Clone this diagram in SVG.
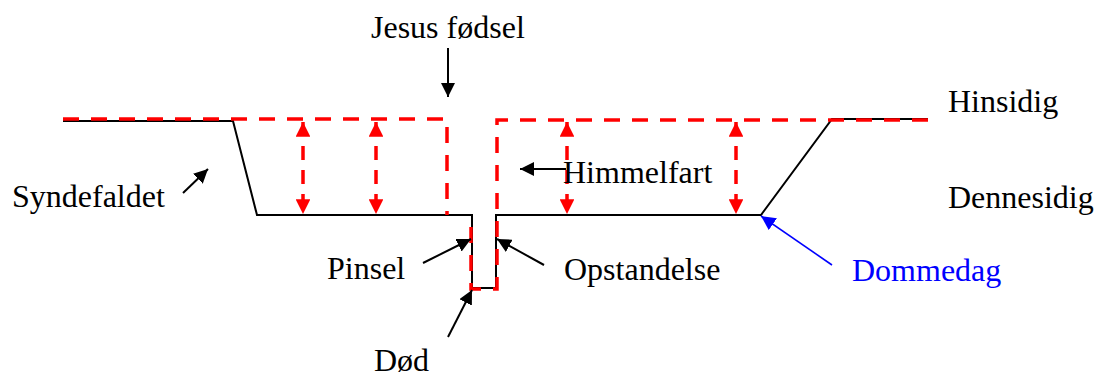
<svg xmlns="http://www.w3.org/2000/svg" width="1094" height="377" viewBox="0 0 1094 377">
<style>
text{font-family:'Liberation Serif','Times New Roman','DejaVu Serif',serif;font-size:32px;fill:#000}
.blue{fill:#0000ff}
.blk{fill:none;stroke:#000;stroke-width:2}
.red{fill:none;stroke:#ff0000;stroke-width:3.5;stroke-dasharray:16 12}
.ra{fill:none;stroke:#ff0000;stroke-width:3.5;stroke-dasharray:14 10}
.ar{fill:none;stroke:#000;stroke-width:2}
.ab{fill:none;stroke:#0000ff;stroke-width:1.6}
</style>
<defs>
<marker id="mb" viewBox="0 0 10 10" refX="10" refY="5" markerWidth="7" markerHeight="7" markerUnits="strokeWidth" orient="auto">
<path d="M0,0 L10,5 L0,10 Z" fill="#000"/>
</marker>
<marker id="mbl" viewBox="0 0 10 10" refX="10" refY="5" markerWidth="9" markerHeight="9" markerUnits="strokeWidth" orient="auto">
<path d="M0,0 L10,5 L0,10 Z" fill="#0000ff"/>
</marker>
<marker id="mr" viewBox="0 0 10 10" refX="10" refY="5" markerWidth="4.2" markerHeight="4.2" markerUnits="strokeWidth" orient="auto-start-reverse">
<path d="M0,0 L10,5 L0,10 Z" fill="#ff0000"/>
</marker>
</defs>
<g id="baseline">
<path class="blk" d="M63 121 H233 L257 215 H472 V288 H496 V215 H761 L832 119 H928"/>
</g>
<g id="redline">
<path class="red" d="M63 119 H447 V215"/>
<path class="red" d="M928 120 H497 V289 H471 V215"/>
</g>
<g id="connectors">
<line class="ra" x1="303" y1="122" x2="303" y2="214" marker-start="url(#mr)" marker-end="url(#mr)"/>
<line class="ra" x1="376" y1="122" x2="376" y2="214" marker-start="url(#mr)" marker-end="url(#mr)"/>
<line class="ra" x1="567" y1="122" x2="567" y2="214" marker-start="url(#mr)" marker-end="url(#mr)"/>
<line class="ra" x1="736" y1="122" x2="736" y2="214" marker-start="url(#mr)" marker-end="url(#mr)"/>
<line class="ar" x1="448" y1="48" x2="448" y2="97" marker-end="url(#mb)"/>
<line class="ar" x1="183" y1="193" x2="208" y2="169" marker-end="url(#mb)"/>
<line class="ar" x1="566" y1="169" x2="520" y2="169" marker-end="url(#mb)"/>
<line class="ar" x1="423" y1="263" x2="471" y2="239" marker-end="url(#mb)"/>
<line class="ar" x1="544" y1="265" x2="497" y2="239" marker-end="url(#mb)"/>
<line class="ar" x1="448" y1="337" x2="472" y2="290" marker-end="url(#mb)"/>
<line class="ab" x1="832" y1="265" x2="761" y2="216" marker-end="url(#mbl)"/>
</g>
<g id="jesus"><text font-family="Liberation Serif, serif" x="371" y="38">Jesus fødsel</text></g>
<g id="hinsidig"><text font-family="Liberation Serif, serif" x="948" y="112">Hinsidig</text></g>
<g id="syndefaldet"><text font-family="Liberation Serif, serif" x="12" y="207">Syndefaldet</text></g>
<g id="himmelfart"><text font-family="Liberation Serif, serif" x="563" y="183">Himmelfart</text></g>
<g id="dennesidig"><text font-family="Liberation Serif, serif" x="948" y="208">Dennesidig</text></g>
<g id="pinsel"><text font-family="Liberation Serif, serif" x="327" y="279">Pinsel</text></g>
<g id="opstandelse"><text font-family="Liberation Serif, serif" x="564" y="280">Opstandelse</text></g>
<g id="dommedag"><text class="blue" font-family="Liberation Serif, serif" x="852" y="281">Dommedag</text></g>
<g id="dod"><text font-family="Liberation Serif, serif" x="374" y="371">Død</text></g>
</svg>
